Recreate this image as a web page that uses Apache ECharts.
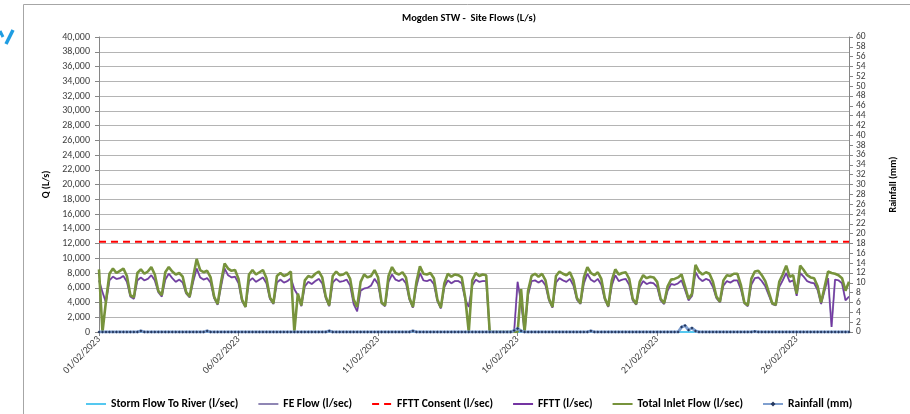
<!DOCTYPE html>
<html>
<head>
<meta charset="utf-8">
<script src="https://cdn.jsdelivr.net/npm/echarts@6/dist/echarts.min.js"></script>
<style>
html,body{margin:0;padding:0;background:#fff;}
#chart{width:910px;height:414px;}
</style>
</head>
<body>
<div id="chart"></div>
<script>
// ---- Data (3-hourly readings, 01/02/2023 00:00 .. 27/02/2023 21:00) ----
const days = ['01/02/2023','02/02/2023','03/02/2023','04/02/2023','05/02/2023','06/02/2023','07/02/2023',
  '08/02/2023','09/02/2023','10/02/2023','11/02/2023','12/02/2023','13/02/2023','14/02/2023','15/02/2023',
  '16/02/2023','17/02/2023','18/02/2023','19/02/2023','20/02/2023','21/02/2023','22/02/2023','23/02/2023',
  '24/02/2023','25/02/2023','26/02/2023','27/02/2023'];
const hours = ['00:00','03:00','06:00','09:00','12:00','15:00','18:00','21:00'];

const totalInletFlow = [
  8500,0,4200,7900,8600,8000,8300,8600,
  7600,5000,4700,8000,8500,7900,8200,8800,
  7800,5600,5000,8100,8800,8200,7800,8000,
  7500,5400,4800,7500,9900,8400,8100,8300,
  7400,4800,3800,6800,9300,8600,8300,8400,
  7200,4400,3400,7800,8400,7800,8100,8400,
  7300,4700,3900,7600,8000,7600,7800,8200,
  0,5200,3600,7000,7600,7400,7900,8200,
  7400,4800,3600,7600,8200,7700,7800,8100,
  7200,4400,3400,6800,7800,7400,7600,8400,
  7400,4000,3600,7600,8800,8000,7800,8100,
  7400,4600,3400,6800,8900,7900,7800,8000,
  7300,4400,3300,6600,7900,7500,7800,7700,
  7400,4600,0,7000,8000,7600,7800,7700,
  0,0,0,0,0,0,0,0,
  0,5800,0,5600,7600,7900,7500,7900,
  7000,4500,3400,7600,8200,7900,7700,8100,
  7000,4600,3900,7400,8800,8000,7700,8100,
  7200,4600,3500,7000,8500,7800,8000,8100,
  7200,4500,3800,6800,7700,7300,7500,7400,
  6800,4500,3900,6200,7100,7200,7400,7800,
  6200,4500,5200,9100,8200,7800,8100,7900,
  6800,4800,4100,7000,7700,7600,7900,7900,
  6400,4000,3600,7200,8200,8300,7700,6900,
  5400,3900,3700,6800,7800,9000,7500,7700,
  5200,9000,8400,7700,7400,7300,6200,4000,
  6100,8200,8000,7900,7700,7300,5600,6800
];

const feFlow = [
  7000,5400,4000,7000,7500,7200,7300,7600,
  6800,4800,4500,7000,7400,7000,7200,7700,
  7000,5400,4800,7100,7900,7300,6800,7100,
  6700,5200,4700,6800,8600,7400,7100,7300,
  6700,4600,3700,6200,8600,7700,7400,7500,
  6600,4200,3400,6900,7300,6800,7100,7400,
  6600,4500,3800,6700,7100,6700,6900,7300,
  5800,5000,3500,6200,6800,6500,6900,7200,
  6600,4600,3500,6700,7200,6800,6900,7100,
  6300,3800,2800,5600,5900,6000,6300,7200,
  6500,3900,3500,6800,7800,7100,6900,7200,
  6600,4400,3300,6200,8000,7000,6900,7100,
  6500,4200,3200,6100,7000,6600,6900,6900,
  6600,4400,3400,6300,7100,6800,6900,6900,
  0,0,0,0,0,0,0,0,
  6800,4000,0,5000,6900,7000,6700,7000,
  6300,4300,3300,6700,7300,7000,6800,7200,
  6300,4400,3800,6600,7900,7100,6800,7200,
  6400,4400,3400,6300,7700,6900,7100,7200,
  6400,4300,3700,6100,6900,6500,6700,6600,
  6100,4300,3800,5600,6500,6400,6600,7000,
  5700,4300,4900,8100,7300,6900,7200,7000,
  6100,4600,4000,6300,6900,6700,7000,7000,
  5800,3900,3500,6400,7300,7400,6900,6200,
  5000,3800,3600,6100,7000,8000,6800,7000,
  4900,8000,7500,6900,6700,6600,5700,3800,
  5600,7300,700,7100,7000,6600,4300,4800
];

const stormFlow = [
  0,0,0,0,0,0,0,0, 0,0,0,0,0,0,0,0, 0,0,0,0,0,0,0,0, 0,0,0,0,0,0,0,0,
  0,0,0,0,0,0,0,0, 0,0,0,0,0,0,0,0, 0,0,0,0,0,0,0,0, 0,0,0,0,0,0,0,0,
  0,0,0,0,0,0,0,0, 0,0,0,0,0,0,0,0, 0,0,0,0,0,0,0,0, 0,0,0,0,0,0,0,0,
  0,0,0,0,0,0,0,0, 0,0,0,0,0,0,0,0, 0,0,0,0,0,0,0,0, 0,0,0,0,0,0,0,0,
  0,0,0,0,0,0,0,0, 0,0,0,0,0,0,0,0, 0,0,0,0,0,0,0,0, 0,0,0,0,0,0,0,0,
  0,0,0,0,0,0,0,0, 0,0,0,0,0,0,0,0, 0,0,0,0,0,0,0,0, 0,0,0,0,0,0,0,0,
  0,0,0,0,0,0,0,0, 0,0,0,0,0,0,0,0, 0,0,0,0,0,0,0,0
];

const rainfall = [
  0,0,0,0,0,0,0,0,
  0,0,0,0,0.2,0,0,0,
  0,0,0,0,0,0,0,0,
  0,0,0,0,0,0,0,0.2,
  0,0,0,0,0,0,0,0,
  0,0,0,0,0,0,0,0,
  0,0,0,0,0,0,0,0,
  0,0,0,0,0,0,0,0,
  0,0,0.2,0,0,0,0,0,
  0,0,0,0,0,0,0,0,
  0,0,0,0,0,0,0,0,
  0,0,0.2,0,0,0,0,0,
  0,0,0,0,0,0,0,0,
  0,0,0,0,0,0,0,0,
  0,0,0,0,0,0,0,0.3,
  0.7,0.2,0,0,0,0,0,0,
  0,0,0,0,0,0,0,0,
  0,0,0,0,0,0.2,0,0,
  0,0,0,0,0,0,0,0,
  0,0,0,0,0,0,0,0,
  0,0,0,0,0,0,0,1.0,
  1.3,0.4,0.8,0.2,0,0,0,0,
  0,0,0,0,0,0,0,0,
  0,0,0,0,0.1,0,0,0,
  0,0,0,0,0,0,0,0,
  0,0,0,0,0,0,0,0,
  0,0,0,0,0,0,0,0
];

const ffttConsent = 12250;
const leftTicks = { min: 0, max: 40000, interval: 2000 };
const rightTicks = { min: 0, max: 60, interval: 2 };

// ---- Build ----
const categories = days.flatMap(d => hours.map(h => d + ' ' + h));
const last = categories.length - 1;
const FONT = "Carlito, Lato, 'Liberation Sans', sans-serif";
const fmtThousands = v => String(v).replace(/\B(?=(\d{3})+(?!\d))/g, ',');
const noMark = { opacity: 0 };

const chart = echarts.init(document.getElementById('chart'), null, {renderer: 'canvas'});
chart.setOption({
  animation: false,
  backgroundColor: '#ffffff',
  textStyle: { fontFamily: FONT },
  graphic: [
    { type: 'rect', shape: { x: 23.5, y: 4.5, width: 1000, height: 1000 },
      style: { fill: 'none', stroke: '#a6a6a6', lineWidth: 1 }, silent: true },
    { type: 'line', shape: { x1: 13, y1: 30, x2: 6, y2: 44 },
      style: { stroke: '#1f9de2', lineWidth: 3.5 }, silent: true },
    { type: 'line', shape: { x1: 0, y1: 31, x2: 3, y2: 37 },
      style: { stroke: '#1f9de2', lineWidth: 3 }, silent: true },
    { type: 'text', x: 469, y: 18,
      style: { text: 'Mogden STW -  Site Flows (L/s)', fontFamily: FONT, fontWeight: 'bold',
               fontSize: 10.5, fill: '#000', textAlign: 'center', textVerticalAlign: 'middle' } }
  ],
  grid: { left: 99, right: 61, top: 37, bottom: 82, containLabel: false },
  legend: {
    left: 80, top: 393, itemWidth: 20, itemHeight: 6, itemGap: 19,
    textStyle: { fontFamily: FONT, fontWeight: 'bold', fontSize: 11.5, color: '#000' },
    data: [
      { name: 'Storm Flow To River (l/sec)', itemStyle: noMark },
      { name: 'FE Flow (l/sec)', itemStyle: noMark },
      { name: 'FFTT Consent (l/sec)', itemStyle: noMark },
      { name: 'FFTT (l/sec)', itemStyle: noMark },
      { name: 'Total Inlet Flow (l/sec)', itemStyle: noMark },
      { name: 'Rainfall (mm)' }
    ]
  },
  xAxis: {
    type: 'category', data: categories, boundaryGap: false,
    axisLine: { show: true, lineStyle: { color: '#868686', width: 1 } },
    axisTick: { show: true, interval: 39, length: 4, lineStyle: { color: '#868686' } },
    axisLabel: { interval: 39, rotate: 45, margin: 6, fontSize: 10, color: '#404040',
                 fontFamily: FONT, formatter: v => v.split(' ')[0] },
    splitLine: { show: false }
  },
  yAxis: [
    { type: 'value', min: leftTicks.min, max: leftTicks.max, interval: leftTicks.interval,
      name: 'Q (L/s)', nameLocation: 'middle', nameGap: 41, nameRotate: 90,
      nameTextStyle: { fontFamily: FONT, fontWeight: 'bold', fontSize: 10, color: '#000' },
      axisLine: { show: true, lineStyle: { color: '#868686' } },
      axisTick: { show: true, length: 4, lineStyle: { color: '#868686' } },
      axisLabel: { fontSize: 10, color: '#404040', margin: 9, fontFamily: FONT, formatter: fmtThousands },
      splitLine: { show: true, lineStyle: { color: '#b4b4b4', width: 1 } } },
    { type: 'value', min: rightTicks.min, max: rightTicks.max, interval: rightTicks.interval,
      position: 'right',
      name: 'Rainfall (mm)', nameLocation: 'middle', nameGap: 39, nameRotate: 90,
      nameTextStyle: { fontFamily: FONT, fontWeight: 'bold', fontSize: 10, color: '#000' },
      axisLine: { show: true, lineStyle: { color: '#868686' } },
      axisTick: { show: true, length: 4, lineStyle: { color: '#868686' } },
      axisLabel: { fontSize: 9.5, color: '#404040', margin: 7, fontFamily: FONT },
      splitLine: { show: false } }
  ],
  series: [
    { name: 'Storm Flow To River (l/sec)', type: 'line', yAxisIndex: 0, data: stormFlow,
      symbol: 'none', lineStyle: { color: '#55c8f0', width: 2 }, itemStyle: { color: '#55c8f0' }, z: 2 },
    { name: 'FE Flow (l/sec)', type: 'line', yAxisIndex: 0, data: feFlow,
      symbol: 'none', lineStyle: { color: '#8f86b4', width: 2 }, itemStyle: { color: '#8f86b4' }, z: 3 },
    { name: 'FFTT Consent (l/sec)', type: 'line', yAxisIndex: 0,
      data: [[categories[0], ffttConsent], [categories[last], ffttConsent]],
      symbol: 'none', lineStyle: { color: '#ff0000', width: 2, type: [7, 5] }, itemStyle: { color: '#ff0000' }, z: 4 },
    { name: 'FFTT (l/sec)', type: 'line', yAxisIndex: 0, data: feFlow,
      symbol: 'none', lineStyle: { color: '#7434a2', width: 1.2 }, itemStyle: { color: '#7434a2' }, z: 5 },
    { name: 'Total Inlet Flow (l/sec)', type: 'line', yAxisIndex: 0, data: totalInletFlow,
      symbol: 'none', lineStyle: { color: '#77933c', width: 2.6 }, itemStyle: { color: '#77933c' }, z: 6 },
    { name: 'Rainfall (mm)', type: 'line', yAxisIndex: 1, data: rainfall,
      symbol: 'diamond', symbolSize: 3, showAllSymbol: true,
      lineStyle: { color: '#7f9fcf', width: 3 }, itemStyle: { color: '#24375e' }, z: 7 }
  ]
});
</script>
</body>
</html>
